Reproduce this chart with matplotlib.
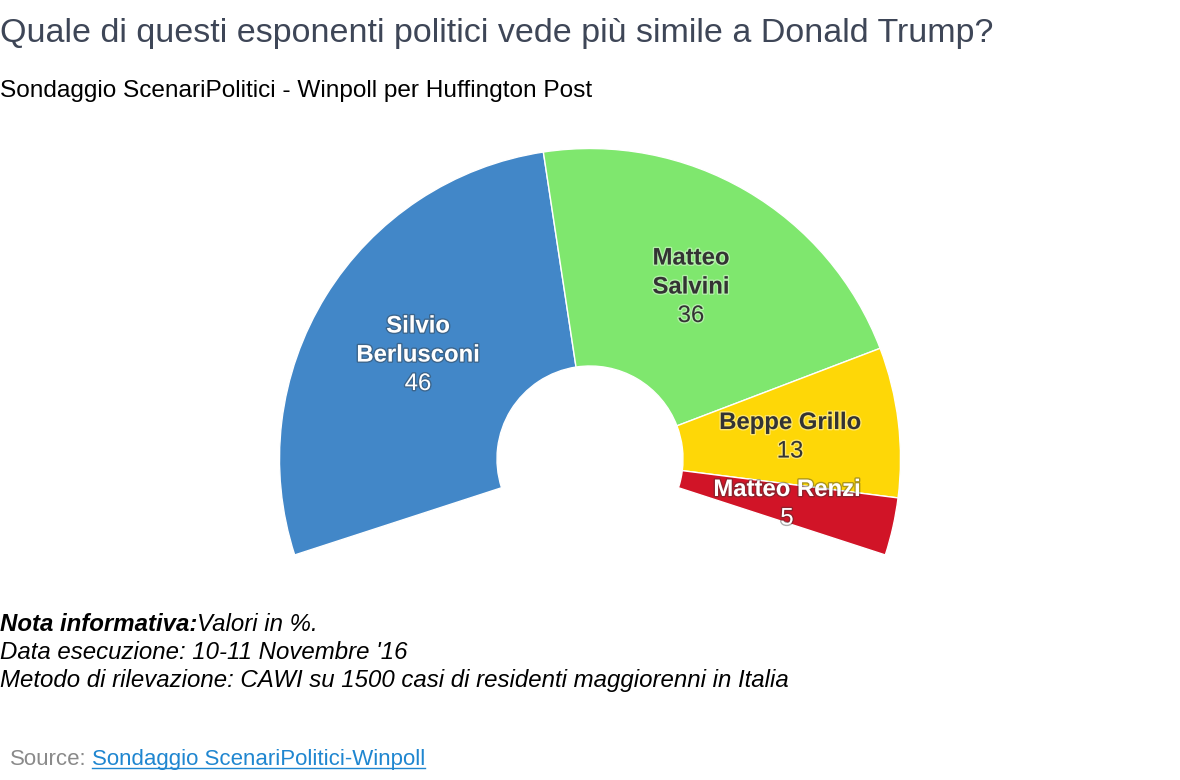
import matplotlib
matplotlib.use("Agg")
import matplotlib.patheffects as pe
import matplotlib.pyplot as plt

plt.rcParams["font.family"] = ["Liberation Sans", "DejaVu Sans"]

W, H = 1180, 780
CX, CY, R_OUT, R_IN = 590, 459, 310.5, 93

names = ["Silvio Berlusconi", "Matteo Salvini", "Beppe Grillo", "Matteo Renzi"]
values = [46, 36, 13, 5]
colors = ["#4287c8", "#7fe76e", "#fed707", "#d11427"]
label_lines = ["Silvio\nBerlusconi", "Matteo\nSalvini", "Beppe Grillo", "Matteo Renzi"]
label_colors = ["#ffffff", "#333333", "#333333", "#ffffff"]
glow_colors = ["#333333", "#ffffff", "#ffffff", "#333333"]
# centre of each label block, in px from top left
label_xy = [(418, 355), (691, 287), (790, 437), (787, 504)]

ARC = 0.6  # half-doughnut spans 216 degrees


def px(x, y):
    return x / W, 1 - y / H


fig = plt.figure(figsize=(W / 100, H / 100), dpi=100, facecolor="white")
ax = fig.add_axes([(CX - R_OUT) / W, 1 - (CY + R_OUT) / H, 2 * R_OUT / W, 2 * R_OUT / H])
ax.pie([v / 100 * ARC for v in values], colors=colors, startangle=198, counterclock=False,
       normalize=False, radius=1,
       wedgeprops=dict(width=1 - R_IN / R_OUT, edgecolor="white", linewidth=1))
ax.set_xlim(-1, 1)
ax.set_ylim(-1, 1)
ax.set_aspect("equal")
ax.axis("off")

for line, val, (x, y), c, g in zip(label_lines, values, label_xy, label_colors, glow_colors):
    glow = [pe.withStroke(linewidth=2, foreground=g, alpha=0.4)]
    n = line.count("\n") + 1
    top = y - (n + 1) * 29 / 2
    for i, part in enumerate(line.split("\n")):
        xx, yy = px(x, top + 14.5 + i * 29)
        fig.text(xx, yy, part, ha="center", va="center", fontsize=17.2, fontweight="bold",
                 color=c, path_effects=glow)
    xx, yy = px(x, top + 14.5 + n * 29)
    fig.text(xx, yy, str(val), ha="center", va="center", fontsize=17.2, color=c, path_effects=glow)

fig.text(*px(0, 42), "Quale di questi esponenti politici vede più simile a Donald Trump?",
         fontsize=24.47, color="#3e4657", ha="left", va="baseline")
fig.text(*px(0, 97), "Sondaggio ScenariPolitici - Winpoll per Huffington Post",
         fontsize=17.53, color="black", ha="left", va="baseline")

r = fig.canvas.get_renderer()
t = fig.text(*px(0, 631), "Nota informativa:", fontsize=17.27, fontweight="bold", style="italic",
             ha="left", va="baseline", color="black")
w = t.get_window_extent(r).width
fig.text(*px(w, 631), "Valori in %.", fontsize=17.27, style="italic", ha="left", va="baseline", color="black")
fig.text(*px(0, 659), "Data esecuzione: 10-11 Novembre '16", fontsize=17.27, style="italic",
         ha="left", va="baseline", color="black")
fig.text(*px(0, 687), "Metodo di rilevazione: CAWI su 1500 casi di residenti maggiorenni in Italia",
         fontsize=17.27, style="italic", ha="left", va="baseline", color="black")

fig.text(*px(10, 765), "Source:", fontsize=16, color="#8a8a8a", ha="left", va="baseline")
t2 = fig.text(*px(92, 765), "Sondaggio ScenariPolitici-Winpoll", fontsize=16, color="#1f86d0",
              ha="left", va="baseline")
bb = t2.get_window_extent(r)
fig.add_artist(plt.Line2D([bb.x0 / W, bb.x1 / W], [1 - 768 / H] * 2, color="#1f86d0", lw=1))

fig.savefig("out.png", dpi=100)
